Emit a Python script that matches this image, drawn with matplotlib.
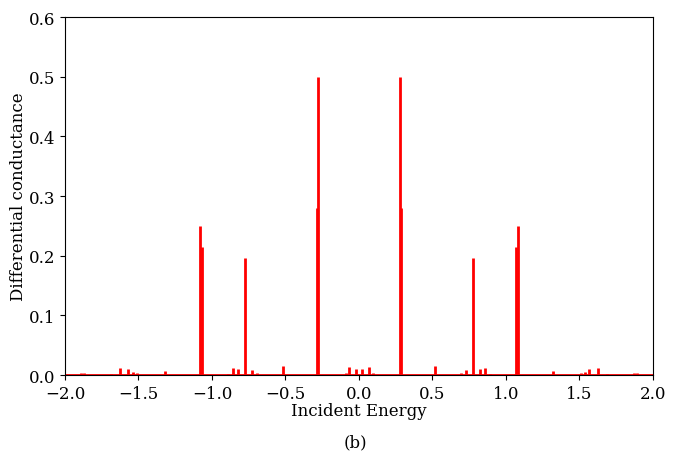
import numpy as np
import matplotlib.pyplot as plt

plt.rcParams['font.family'] = 'DejaVu Serif'
plt.rcParams['font.size'] = 12

# resonance positions (positive side) and peak heights; spectrum is mirror symmetric
energy_pos = [0.020, 0.065, 0.093, 0.278, 0.2825, 0.514, 0.697, 0.726, 0.773,
              0.821, 0.857, 0.893, 1.066, 1.079, 1.32, 1.512, 1.538, 1.568,
              1.625, 1.686, 1.869, 1.890]
cond_pos = [0.010, 0.014, 0.003, 0.500, 0.280, 0.015, 0.003, 0.009, 0.196,
            0.010, 0.012, 0.002, 0.215, 0.250, 0.007, 0.003, 0.005, 0.010,
            0.012, 0.002, 0.003, 0.003]
energy_neg = [-0.020, -0.065, -0.090]
cond_neg = [0.010, 0.014, 0.003]

energy = np.concatenate([-np.array(energy_pos[3:]), energy_neg, energy_pos])
cond = np.concatenate([cond_pos[3:], cond_neg, cond_pos])

fig = plt.figure(figsize=(6.79, 4.56), dpi=100)
ax = fig.add_axes([0.0957, 0.1754, 0.866, 0.785])

ax.axhline(0, color='red', lw=2, zorder=1)
ax.vlines(energy, 0, cond, colors='red', lw=2, zorder=2)

ax.set_xlim(-2.0, 2.0)
ax.set_ylim(0, 0.6)
ax.set_xticks(np.arange(-2.0, 2.01, 0.5))
ax.set_yticks(np.arange(0, 0.61, 0.1))
ax.set_xlabel('Incident Energy', labelpad=0)
ax.set_ylabel('Differential conductance', labelpad=1)
fig.text(0.523, 0.028, '(b)', ha='center', va='center', fontsize=12)

fig.savefig('out.png', dpi=100)
